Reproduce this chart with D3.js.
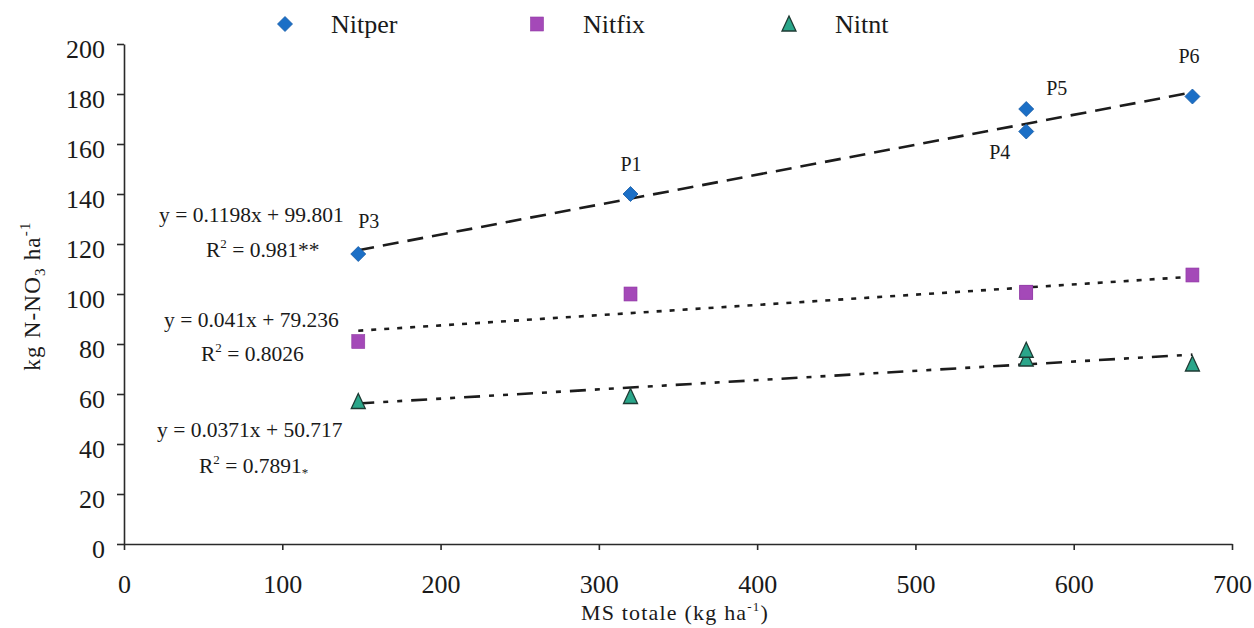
<!DOCTYPE html>
<html>
<head>
<meta charset="utf-8">
<script src="https://cdn.jsdelivr.net/npm/d3@7"></script>
<style>
  html, body { margin: 0; padding: 0; background: #fff; }
  svg { display: block; }
  text { font-family: "Liberation Serif", "DejaVu Serif", serif; fill: #1a1a1a; }
</style>
</head>
<body>
<svg id="chart" width="1254" height="628"></svg>
<script>
// ---- data ----
const msTotale  = [148, 320, 570, 570, 675];
const plotNames = ["P3", "P1", "P4", "P5", "P6"];
const nitper    = [116, 140, 165, 174, 179];
const nitfix    = [81, 100, 100.7, 100.7, 107.6];
const nitnt     = [57, 59, 74, 77.5, 72];

const seriesNames = ["Nitper", "Nitfix", "Nitnt"];
const slopes      = [0.1198, 0.041, 0.0371];
const intercepts  = [99.801, 79.236, 50.717];
const eqLabels    = ["y = 0.1198x + 99.801", "y = 0.041x + 79.236", "y = 0.0371x + 50.717"];
const r2Labels    = ["0.981**", "0.8026", "0.7891"];

const xTicks = [0, 100, 200, 300, 400, 500, 600, 700];
const yTicks = [0, 20, 40, 60, 80, 100, 120, 140, 160, 180, 200];

// ---- styles ----
const FONT    = "'Liberation Serif', 'Times New Roman', serif";
const colors  = ["#1b6fc6", "#a449b8", "#2aa68a"];
const dashes  = ["16 9", "5 8", "16 9 5 9 5 9"];
const lineCol = "#1c1c1c";

const svg = d3.select("#chart").attr("font-family", FONT);
const x = d3.scaleLinear().domain([0, 700]).range([124, 1232]);
const y = d3.scaleLinear().domain([0, 200]).range([544, 44]);

// ---- axes ----
const yAxis = svg.append("g").attr("transform", `translate(${x(0)},0)`)
  .call(d3.axisLeft(y).tickValues(yTicks).tickSize(7).tickSizeOuter(0).tickPadding(12).tickFormat(d3.format("d")));
yAxis.attr("font-family", FONT).attr("font-size", 26);
yAxis.selectAll("text").attr("dy", 13).attr("fill", "#1a1a1a");

const xAxis = svg.append("g").attr("transform", `translate(0,${y(0)})`)
  .call(d3.axisBottom(x).tickValues(xTicks).tickSize(6).tickSizeOuter(0).tickPadding(25).tickFormat(d3.format("d")));
xAxis.attr("font-family", FONT).attr("font-size", 26);
xAxis.selectAll("text").attr("fill", "#1a1a1a");

svg.selectAll(".domain, .tick line").attr("stroke", "#2a2a2a").attr("stroke-width", 1.6);

// ---- axis titles ----
const xt = svg.append("text").attr("x", 675).attr("y", 620).attr("text-anchor", "middle")
  .attr("font-family", FONT).attr("font-size", 22).attr("letter-spacing", 1.2);
xt.append("tspan").text("MS totale (kg ha");
xt.append("tspan").attr("dy", -9).attr("font-size", 13).text("-1");
xt.append("tspan").attr("dy", 9).text(")");

const yt = svg.append("text").attr("transform", "translate(40,296) rotate(-90)")
  .attr("text-anchor", "middle").attr("font-family", FONT).attr("font-size", 23).attr("letter-spacing", 1.2);
yt.append("tspan").text("kg N-NO");
yt.append("tspan").attr("dy", 5).attr("font-size", 15).text("3");
yt.append("tspan").attr("dy", -5).text(" ha");
yt.append("tspan").attr("dy", -10).attr("font-size", 15).text("-1");

// ---- marker shapes ----
function marker(g, i, cx, cy) {
  if (i === 0) {
    g.append("path").attr("d", `M${cx},${cy-7.5}L${cx+7.5},${cy}L${cx},${cy+7.5}L${cx-7.5},${cy}Z`)
      .attr("fill", colors[0]).attr("stroke", "#155aa6").attr("stroke-width", 0.8);
  } else if (i === 1) {
    g.append("rect").attr("x", cx-6.5).attr("y", cy-7).attr("width", 13).attr("height", 14)
      .attr("fill", colors[1]).attr("stroke", "#8f3aa3").attr("stroke-width", 0.6);
  } else {
    g.append("path").attr("d", `M${cx},${cy-8}L${cx+7},${cy+7}L${cx-7},${cy+7}Z`)
      .attr("fill", colors[2]).attr("stroke", "#1e3a33").attr("stroke-width", 1.3);
  }
}

// ---- trend lines ----
const xr = d3.extent(msTotale);
seriesNames.forEach((s, i) => {
  const pts = xr.map(v => [x(v), y(slopes[i] * v + intercepts[i])]);
  svg.append("path").attr("d", d3.line()(pts)).attr("fill", "none")
    .attr("stroke", lineCol).attr("stroke-width", 2.6).attr("stroke-dasharray", dashes[i]);
});

// ---- points ----
const seriesVals = [nitper, nitfix, nitnt];
const pg = svg.append("g");
seriesVals.forEach((vals, i) => {
  vals.forEach((v, j) => marker(pg, i, x(msTotale[j]), y(v)));
});

// ---- point labels (on Nitper) ----
const labelOffsets = [[0, -26], [-10, -23], [-37, 27], [20, -14], [-14, -34]];
plotNames.forEach((n, j) => {
  svg.append("text").attr("x", x(msTotale[j]) + labelOffsets[j][0]).attr("y", y(nitper[j]) + labelOffsets[j][1])
    .attr("font-family", FONT).attr("font-size", 20).text(n);
});

// ---- regression equations ----
const eqPos = [[159, 222, 206, 257], [164, 327, 201, 361], [157, 437, 199, 473]];
seriesNames.forEach((s, i) => {
  svg.append("text").attr("x", eqPos[i][0]).attr("y", eqPos[i][1])
    .attr("font-family", FONT).attr("font-size", 21.5).text(eqLabels[i]);
  const r = svg.append("text").attr("x", eqPos[i][2]).attr("y", eqPos[i][3])
    .attr("font-family", FONT).attr("font-size", 21.5);
  r.append("tspan").text("R");
  r.append("tspan").attr("dy", -9).attr("font-size", 13).text("2");
  r.append("tspan").attr("dy", 9).text(" = " + r2Labels[i]);
  if (i === 2) r.append("tspan").attr("dy", 4).attr("font-size", 13).text("*");
});

// ---- legend ----
const legX = [285, 537, 789];
seriesNames.forEach((s, i) => {
  marker(svg, i, legX[i], 24);
  svg.append("text").attr("x", legX[i] + 46).attr("y", 33)
    .attr("font-family", FONT).attr("font-size", 26).text(s);
});
</script>
</body>
</html>
